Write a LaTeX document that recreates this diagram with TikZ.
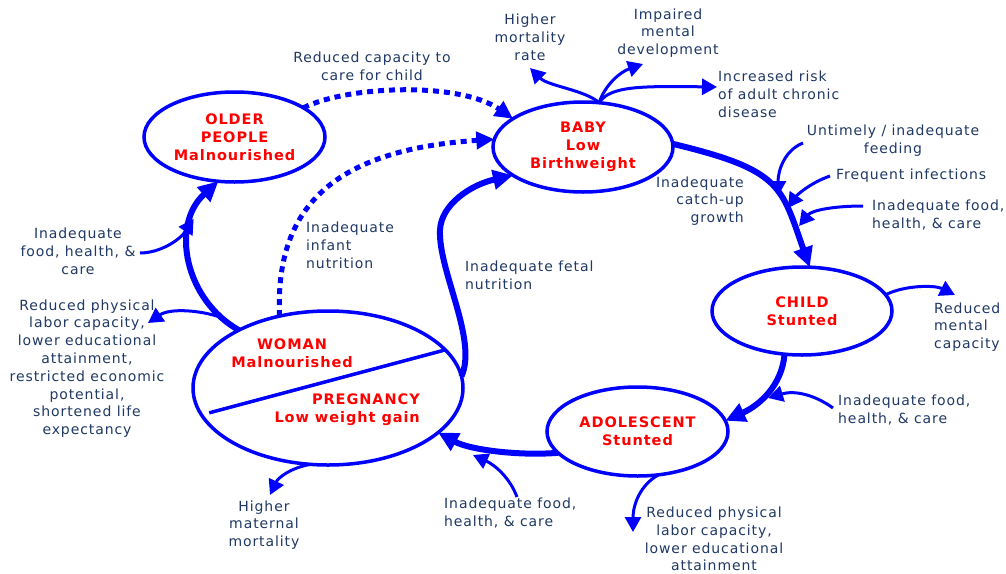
\documentclass[tikz,border=0pt]{standalone}
\usepackage{fontspec}
\usetikzlibrary{arrows.meta,shapes.geometric}

\newfontfamily\lblfont{DejaVu Sans}[LetterSpace=6.5]
\newfontfamily\stagefont{DejaVu Sans}[LetterSpace=6.5]

\definecolor{cBlue}{RGB}{0,0,255}
\definecolor{cRed}{RGB}{255,0,0}
\definecolor{cNavy}{RGB}{31,56,100}

\tikzset{
  stagetxt/.style={text=cRed, font={\stagefont\bfseries\fontsize{14.5}{18}\selectfont}, align=center, inner sep=0pt},
  stage/.style={ellipse, draw=cBlue, line width=3.5pt, inner sep=0pt, outer sep=0pt, stagetxt},
  lbl/.style={text=cNavy, font={\lblfont\fontsize{14}{17.8}\selectfont}, inner sep=0pt},
  mainarr/.style={draw=cBlue, line width=6pt, -{Triangle[length=20pt,width=19pt]}},
  sidearr/.style={draw=cBlue, line width=3pt, -{Triangle[length=15pt,width=16pt]}},
  dotarr/.style={draw=cBlue, line width=5pt, dash pattern=on 6pt off 5pt, -{Triangle[length=18pt,width=17pt]}}
}

\begin{document}
\begin{tikzpicture}[x=1pt,y=-1pt]
\useasboundingbox (0,0) rectangle (1006,573);

% Life-cycle stages
\node[stage, minimum width=181pt, minimum height=90pt] (older) at (234.5,137) {OLDER\\PEOPLE\\Malnourished};
\node[stage, minimum width=180pt, minimum height=90pt] (baby) at (583,147) {BABY\\Low\\Birthweight};
\node[stage, minimum width=180pt, minimum height=88pt] (child) at (802,311) {CHILD\\Stunted};
\node[stage, minimum width=181pt, minimum height=89pt] (adol) at (637.5,431.5) {ADOLESCENT\\Stunted};
\node[stage, minimum width=270pt, minimum height=154pt] (woman) at (328,388) {};
\node[stagetxt] (womantxt) at (292,353) {WOMAN\\Malnourished};
\node[stagetxt, anchor=east, align=right] (pregtxt) at (420,410) {PREGNANCY\\Low weight gain};
\draw[cBlue, line width=3.5pt, shorten <=8pt] (woman.192) -- (woman.18);

% Labels
\node[lbl, align=center] (capcare) at (372,66) {Reduced capacity to\\care for child};
\node[lbl, align=center] (mortrate) at (530,37) {Higher\\mortality\\rate};
\node[lbl, align=center] (impaired) at (668,33) {Impaired\\mental\\development};
\node[lbl, align=left, anchor=west] (chronic) at (718,94) {Increased risk\\of adult chronic\\disease};
\node[lbl, align=center] (feeding) at (893,141) {Untimely / inadequate\\feeding};
\node[lbl, anchor=west] (infect) at (836,176) {Frequent infections};
\node[lbl, align=left, anchor=west] (foodB) at (872,215) {Inadequate food,\\health, \& care};
\node[lbl, align=right, anchor=east] (catchup) at (744,201) {Inadequate\\catch-up\\growth};
\node[lbl, align=left, anchor=west] (mentcap) at (934,327) {Reduced\\mental\\capacity};
\node[lbl, align=left, anchor=west] (foodC) at (838,410) {Inadequate food,\\health, \& care};
\node[lbl, align=center] (physA) at (714,539) {Reduced physical\\labor capacity,\\lower educational\\attainment};
\node[lbl, align=left, anchor=west] (foodA) at (444,513) {Inadequate food,\\health, \& care};
\node[lbl, align=center] (matmort) at (264,525) {Higher\\maternal\\mortality};
\node[lbl, align=center] (physW) at (87,368.5) {Reduced physical\\labor capacity,\\lower educational\\attainment,\\restricted economic\\potential,\\shortened life\\expectancy};
\node[lbl, align=center] (foodO) at (78,251) {Inadequate\\food, health, \&\\care};
\node[lbl, align=left, anchor=west] (infant) at (306,245) {Inadequate\\infant\\nutrition};
\node[lbl, align=left, anchor=west] (fetal) at (465,275) {Inadequate fetal\\nutrition};

% Free ends of the side arrows
\coordinate (bTop) at (baby.70);
\coordinate (oMort) at (530,68);
\coordinate (oImp) at (643,64);
\coordinate (oRisk) at (717,87);
\coordinate (iUnt) at (803,143);
\coordinate (jU) at (778,196);
\coordinate (iFrq) at (830,176);
\coordinate (jF) at (788,208);
\coordinate (iFood) at (863,206);
\coordinate (jD) at (799,226);
\coordinate (oMent) at (955,295);
\coordinate (iChd) at (833,408);
\coordinate (jChd) at (768,398);
\coordinate (oAdo) at (633,532);
\coordinate (iBot) at (517,497);
\coordinate (jBot) at (473,455);
\coordinate (oMat) at (270,495);
\coordinate (oPhys) at (148,323);
\coordinate (iOld) at (140,253);

% Main cycle
\draw[mainarr] (woman.147) .. controls (185,300) and (170,225) .. (older.250)
  coordinate[pos=0.12] (brA) coordinate[pos=0.75] (jA);
\draw[mainarr] (woman.5) .. controls (478,340) and (438,270) .. (440,230)
  .. controls (441,205) and (470,185) .. (baby.202);
\draw[mainarr] (baby.2) .. controls (782,170) and (781,186) .. (child.80);
\draw[mainarr] (child.248) .. controls (782,385) and (760,405) .. (adol.7);
\draw[mainarr] (adol.195) .. controls (520,456) and (470,450) .. (woman.338);

% Dotted links
\draw[dotarr] (older.23) .. controls (350,85) and (460,82) .. (baby.158);
\draw[dotarr] (woman.124) .. controls (275,210) and (330,150) .. (baby.175);

% Side arrows
\draw[sidearr] (bTop) .. controls (585,90) and (548,86) .. (oMort);
\draw[sidearr] (bTop) .. controls (605,85) and (620,72) .. (oImp);
\draw[sidearr] (bTop) .. controls (610,86) and (640,86) .. (oRisk);
\draw[sidearr] (iUnt) .. controls (785,150) and (778,170) .. (jU);
\draw[sidearr] (iFrq) .. controls (810,183) and (797,195) .. (jF);
\draw[sidearr] (iFood) .. controls (835,206) and (812,210) .. (jD);
\draw[sidearr] (child.11) .. controls (905,285) and (935,285) .. (oMent);
\draw[sidearr] (iChd) .. controls (815,395) and (795,390) .. (jChd);
\draw[sidearr] (adol.-64) .. controls (640,485) and (633,505) .. (oAdo);
\draw[sidearr] (iBot) .. controls (510,478) and (495,465) .. (jBot);
\draw[sidearr] (woman.257) .. controls (290,468) and (278,478) .. (oMat);
\draw[sidearr] (brA) .. controls (200,310) and (170,308) .. (oPhys);
\draw[sidearr] (iOld) .. controls (160,253) and (180,240) .. (jA);

\end{tikzpicture}
\end{document}
